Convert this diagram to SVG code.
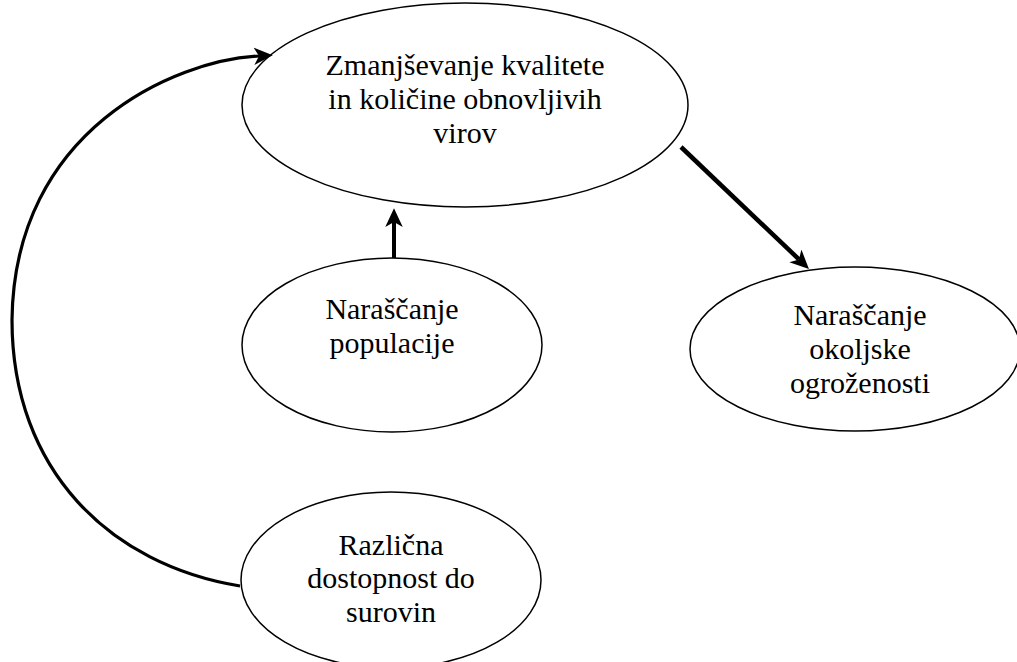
<svg xmlns="http://www.w3.org/2000/svg" width="1017" height="662" viewBox="0 0 1017 662">
<style>
.node ellipse{fill:#fff;stroke:#000;stroke-width:1.5}
.node text{font-family:"Liberation Serif","Times New Roman",serif;font-size:30px;fill:#000;text-anchor:middle}
.conn{fill:none;stroke:#000}
</style>
<defs>
<marker id="ah" markerUnits="userSpaceOnUse" markerWidth="20" markerHeight="20" viewBox="0 -8 16 16" refX="4" refY="0" orient="auto">
<path d="M0,-7 L15,0 L0,7 L4,0 z" fill="#000"/>
</marker>
</defs>
<rect width="1017" height="662" fill="#fff"/>
<g id="n-top" class="node">
<ellipse cx="465" cy="105" rx="223" ry="102"/>
<text x="465" y="75">Zmanjševanje kvalitete</text>
<text x="465" y="109">in količine obnovljivih</text>
<text x="465" y="143">virov</text>
</g>
<g id="n-pop" class="node">
<ellipse cx="392" cy="345" rx="150" ry="87"/>
<text x="392" y="319">Naraščanje</text>
<text x="392" y="353">populacije</text>
</g>
<g id="n-okolj" class="node">
<ellipse cx="855" cy="349" rx="165" ry="82"/>
<text x="860" y="325">Naraščanje</text>
<text x="860" y="359">okoljske</text>
<text x="860" y="393">ogroženosti</text>
</g>
<g id="n-raz" class="node">
<ellipse cx="391" cy="580" rx="150" ry="88"/>
<text x="391" y="555">Različna</text>
<text x="391" y="588">dostopnost do</text>
<text x="391" y="622">surovin</text>
</g>
<g id="connectors">
<path class="conn" stroke-width="3.2" marker-end="url(#ah)" d="M240,586 C110,565 12,470 12,320 C14,130 175,60 259,56"/>
<path class="conn" stroke-width="4" marker-end="url(#ah)" d="M394,258 L394,222"/>
<path class="conn" stroke-width="4.5" marker-end="url(#ah)" d="M681,147 L799,259.4"/>
</g>
</svg>
